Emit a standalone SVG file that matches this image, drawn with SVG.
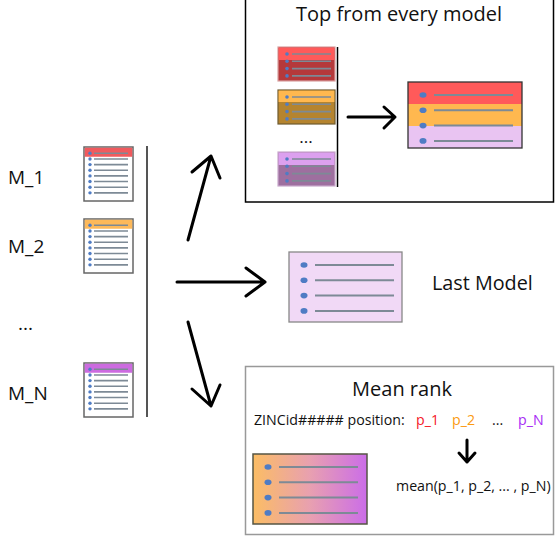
<svg xmlns="http://www.w3.org/2000/svg" width="557" height="537" viewBox="0 0 557 537">
<style>
text{font-family:"Open Sans","Noto Sans","Liberation Sans",sans-serif;fill:#111}
.lbl{font-size:19px}
.ttl{font-size:20px}
.sm{font-size:14.2px}
.bl{fill:#4f7cc4}
.ln{stroke:#7d8a96;stroke-width:1.6}
.ln2{stroke:#7d8a96;stroke-width:2}
.arr{fill:none;stroke:#000;stroke-width:3;stroke-linecap:round;stroke-linejoin:round}
.box{fill:#fff;stroke:#000;stroke-width:1.5}
</style>
<defs>
<g id="rows8">
<circle class="bl" cx="6" cy="6.3" r="1.7"/><line class="ln" x1="10" y1="6.3" x2="44" y2="6.3"/>
<circle class="bl" cx="6" cy="11.95" r="1.7"/><line class="ln" x1="10" y1="11.95" x2="44" y2="11.95"/>
<circle class="bl" cx="6" cy="17.6" r="1.7"/><line class="ln" x1="10" y1="17.6" x2="44" y2="17.6"/>
<circle class="bl" cx="6" cy="23.25" r="1.7"/><line class="ln" x1="10" y1="23.25" x2="44" y2="23.25"/>
<circle class="bl" cx="6" cy="28.9" r="1.7"/><line class="ln" x1="10" y1="28.9" x2="44" y2="28.9"/>
<circle class="bl" cx="6" cy="34.55" r="1.7"/><line class="ln" x1="10" y1="34.55" x2="44" y2="34.55"/>
<circle class="bl" cx="6" cy="40.2" r="1.7"/><line class="ln" x1="10" y1="40.2" x2="44" y2="40.2"/>
<circle class="bl" cx="6" cy="45.85" r="1.7"/><line class="ln" x1="10" y1="45.85" x2="44" y2="45.85"/>
</g>
<g id="rows4s">
<circle class="bl" cx="9" cy="7" r="1.8"/><line class="ln" x1="14" y1="7" x2="53" y2="7"/>
<circle class="bl" cx="9" cy="14.3" r="1.8"/><line class="ln" x1="14" y1="14.3" x2="53" y2="14.3"/>
<circle class="bl" cx="9" cy="21.6" r="1.8"/><line class="ln" x1="14" y1="21.6" x2="53" y2="21.6"/>
<circle class="bl" cx="9" cy="28.9" r="1.8"/><line class="ln" x1="14" y1="28.9" x2="53" y2="28.9"/>
</g>
<g id="rows4b">
<ellipse class="bl" cx="15" cy="13" rx="3.5" ry="2.8"/><line class="ln2" x1="26" y1="13" x2="105" y2="13"/>
<ellipse class="bl" cx="15" cy="28.3" rx="3.5" ry="2.8"/><line class="ln2" x1="26" y1="28.3" x2="105" y2="28.3"/>
<ellipse class="bl" cx="15" cy="43.6" rx="3.5" ry="2.8"/><line class="ln2" x1="26" y1="43.6" x2="105" y2="43.6"/>
<ellipse class="bl" cx="15" cy="58.9" rx="3.5" ry="2.8"/><line class="ln2" x1="26" y1="58.9" x2="105" y2="58.9"/>
</g>
<linearGradient id="grad" x1="0" y1="0" x2="1" y2="0">
<stop offset="0" stop-color="#fbbd64"/>
<stop offset="0.5" stop-color="#e8a0b0"/>
<stop offset="1" stop-color="#cb6de8"/>
</linearGradient>
</defs>

<g id="models">
<text class="lbl" x="8" y="184">M_1</text>
<text class="lbl" x="8" y="253">M_2</text>
<text class="lbl" x="18" y="330">...</text>
<text class="lbl" x="8" y="400">M_N</text>
<g id="model1" transform="translate(84,147)">
<rect x="0" y="0" width="49" height="54" fill="#fff" stroke="#666" stroke-width="1.5"/>
<rect x="0.75" y="0.75" width="47.5" height="9" fill="#f05a5e"/>
<use href="#rows8"/>
</g>
<g id="model2" transform="translate(84,219)">
<rect x="0" y="0" width="49" height="54" fill="#fff" stroke="#666" stroke-width="1.5"/>
<rect x="0.75" y="0.75" width="47.5" height="9" fill="#fdb95a"/>
<use href="#rows8"/>
</g>
<g id="modelN" transform="translate(84,363)">
<rect x="0" y="0" width="49" height="54" fill="#fff" stroke="#666" stroke-width="1.5"/>
<rect x="0.75" y="0.75" width="47.5" height="9" fill="#cc6be0"/>
<use href="#rows8"/>
</g>
<line x1="147" y1="146" x2="147" y2="417" stroke="#555" stroke-width="2"/>
</g>

<g id="top-box">
<rect class="box" x="245.5" y="-1" width="308" height="203"/>
<text class="ttl" x="399" y="21" text-anchor="middle">Top from every model</text>
<g id="stack1" transform="translate(278,47)">
<rect x="0" y="0" width="57" height="34" fill="#b5393b" stroke="#d9a0a0" stroke-width="1.2"/>
<rect x="0.6" y="0.6" width="55.8" height="12.4" fill="#ff5a5a"/>
<use href="#rows4s"/>
</g>
<g id="stack2" transform="translate(278,90)">
<rect x="0" y="0" width="57" height="34" fill="#b5842f" stroke="#6e5a30" stroke-width="1.2"/>
<rect x="0.6" y="0.6" width="55.8" height="11.4" fill="#ffb84f"/>
<use href="#rows4s"/>
</g>
<text x="306" y="143" text-anchor="middle" font-size="17">...</text>
<g id="stackN" transform="translate(278,152)">
<rect x="0" y="0" width="57" height="34" fill="#9e6f9f" stroke="#c9a8cc" stroke-width="1.2"/>
<rect x="0.6" y="0.6" width="55.8" height="12.4" fill="#dca0ef"/>
<use href="#rows4s"/>
</g>
<line x1="337.5" y1="47" x2="337.5" y2="187" stroke="#000" stroke-width="1.5"/>
<path class="arr" d="M348 117 H395 M384 107 L395 117 L384 128" stroke-width="2.5"/>
<g id="merged" transform="translate(408,82)">
<rect x="0" y="0" width="114" height="22" fill="#ff5a5a"/>
<rect x="0" y="22" width="114" height="22" fill="#ffb84f"/>
<rect x="0" y="44" width="114" height="22" fill="#e9c4f2"/>
<rect x="0" y="0" width="114" height="66" fill="none" stroke="#333" stroke-width="1.3"/>
<use href="#rows4b"/>
</g>
</g>

<g id="last-model">
<g transform="translate(289,252)">
<rect x="0" y="0" width="113" height="70" fill="#f1d9f6" stroke="#888" stroke-width="1.3"/>
<use href="#rows4b"/>
</g>
<text x="432" y="290" font-size="19.8">Last Model</text>
</g>

<g id="mean-box">
<rect x="245.5" y="366.5" width="308" height="168" fill="#fff" stroke="#999" stroke-width="1.5"/>
<text class="ttl" x="402" y="396" text-anchor="middle">Mean rank</text>
<text class="sm" x="254" y="425">ZINCid##### position:</text>
<text class="sm" x="416" y="425" style="fill:#f5202a">p_1</text>
<text class="sm" x="452" y="425" style="fill:#fb9a12">p_2</text>
<text class="sm" x="492" y="425">...</text>
<text class="sm" x="518" y="425" style="fill:#a82cf5">p_N</text>
<path class="arr" d="M467 440 V462 M459 453 L467 462 L475 453" stroke-width="1.8"/>
<text class="sm" x="396" y="491">mean(p_1, p_2, ... , p_N)</text>
<g transform="translate(253,454)">
<rect x="0" y="0" width="114" height="70" fill="url(#grad)" stroke="#554" stroke-width="1.5"/>
<use href="#rows4b"/>
</g>
</g>

<g id="connectors">
<path class="arr" d="M188 240 L211 156 M192 172 L211 156 L220 178"/>
<path class="arr" d="M177 282 H265 M246 268 L265 282 L246 296"/>
<path class="arr" d="M188 322 L211 406 M192 389 L211 406 L220 385"/>
</g>
</svg>
